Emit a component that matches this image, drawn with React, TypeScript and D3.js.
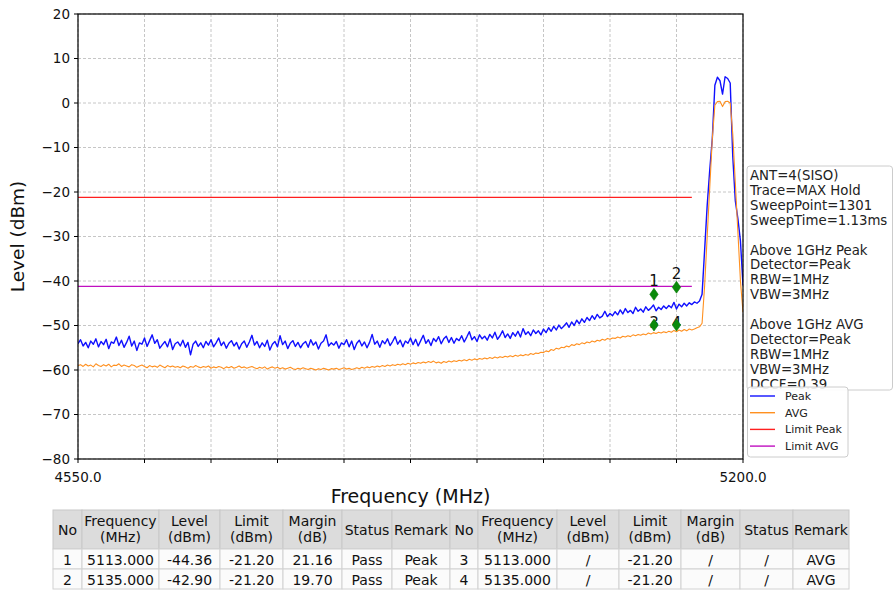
import React from "react";
import * as d3 from "d3";

// ---------- data ----------
const FREQ_START = 4550;
const FREQ_STEP = 2.5;

const PEAK_LEVELS = [
  -54.1, -53.2, -54.6, -53.8, -55.0, -53.5, -54.2, -53.0, -54.8, -53.6,
  -54.3, -53.1, -55.2, -53.7, -54.0, -52.6, -54.5, -53.3, -54.9, -53.8,
  -52.4, -54.6, -53.5, -55.6, -53.9, -54.2, -52.8, -54.7, -53.4, -52.1,
  -54.0, -53.2, -55.1, -54.3, -53.6, -54.8, -53.0, -55.4, -54.1, -53.7,
  -54.6, -53.3, -54.9, -53.8, -56.6, -54.2, -53.5, -54.7, -53.9, -55.0,
  -53.6, -54.4, -53.2, -54.8, -53.9, -52.8, -54.5, -53.7, -55.1, -54.0,
  -53.4, -54.6, -53.8, -55.3, -54.1, -53.5, -54.9, -53.7, -52.2, -54.4,
  -53.6, -55.0, -53.9, -54.7, -53.3, -55.5, -54.2, -53.6, -54.8, -52.3,
  -54.3, -53.5, -55.2, -54.0, -53.4, -54.7, -53.8, -55.0, -54.1, -53.6,
  -54.9, -53.2, -54.4, -53.7, -55.3, -54.0, -53.5, -52.1, -54.6, -53.9,
  -54.4, -53.6, -55.1, -53.9, -54.3, -53.2, -54.8, -53.5, -55.4, -54.0,
  -53.3, -54.6, -53.7, -55.0, -53.8, -52.0, -54.2, -53.5, -54.9, -53.4,
  -54.1, -53.0, -54.5, -53.6, -52.5, -54.2, -53.3, -54.8, -53.5, -54.0,
  -52.8, -54.3, -53.1, -54.6, -53.4, -52.2, -54.0, -53.2, -54.5, -52.9,
  -53.6, -52.5, -54.1, -53.0, -52.4, -53.8, -52.7, -54.0, -52.9, -53.4,
  -52.3, -53.7, -52.6, -51.4, -53.2, -52.5, -53.6, -52.1, -53.0, -52.4,
  -53.3, -52.0, -52.8, -51.5, -53.1, -52.3, -51.2, -52.7, -51.9, -52.9,
  -51.6, -52.4, -51.3, -52.6, -50.7, -52.0, -51.4, -52.3, -51.0, -51.8,
  -51.2, -52.1, -50.8, -51.6, -50.5, -51.3, -50.2, -51.0, -49.9, -50.7,
  -50.1, -49.4, -50.4, -49.2, -50.0, -48.8, -49.6, -48.5, -49.3, -48.2,
  -48.9, -47.8, -48.6, -47.5, -48.3, -47.9, -46.8, -48.0, -47.3, -47.8,
  -46.9, -47.6, -46.5, -47.4, -46.2, -47.1, -46.6, -47.3, -45.9, -46.8,
  -46.3, -47.0, -45.8, -46.6, -46.1, -45.4, -46.7, -45.9, -46.4, -45.6,
  -46.2, -45.5, -46.0, -44.8, -46.3, -45.2, -45.8, -45.0, -45.6, -44.9,
  -45.3, -44.7, -45.0, -44.5, -43.0, -33.0, -23.0, -15.0, -8.0, 4.0,
  5.8, 5.0, 2.0, 5.9, 5.5, 4.5, -12.0, -22.0, -26.0, -31.0,
  -41.0,
];

const AVG_LEVELS = [
  -59.0, -58.8, -59.2, -58.7, -59.1, -58.9, -59.3, -58.6, -59.0, -59.2,
  -58.8, -59.1, -58.7, -59.3, -58.9, -59.0, -58.6, -59.2, -58.9, -59.1,
  -59.3, -58.8, -59.0, -59.4, -59.1, -58.9, -59.2, -59.5, -59.0, -59.3,
  -59.1, -59.4, -58.9, -59.2, -59.5, -59.0, -59.3, -59.1, -59.4, -59.2,
  -59.5, -59.1, -59.3, -59.6, -59.2, -59.4, -59.0, -59.3, -59.5, -59.2,
  -59.4, -59.1, -59.6, -59.3, -59.5, -59.2, -59.4, -59.7, -59.3, -59.5,
  -59.2, -59.6, -59.4, -59.1, -59.5, -59.3, -59.6, -59.4, -59.2, -59.5,
  -59.7, -59.4, -59.6, -59.3, -59.8, -59.5, -59.3, -59.6, -59.4, -59.7,
  -59.5, -59.8, -59.6, -59.4, -59.7, -59.9, -59.6, -59.8, -59.5, -59.7,
  -59.9, -59.6, -59.8, -60.0, -59.7, -59.9, -59.6, -59.8, -60.0, -59.7,
  -59.8, -59.6, -59.9, -59.7, -59.5, -59.8, -59.6, -59.9, -59.7, -59.5,
  -59.7, -59.4, -59.6, -59.3, -59.5, -59.2, -59.4, -59.1, -59.3, -59.0,
  -59.2, -58.9, -59.1, -58.8, -59.0, -58.7, -58.9, -58.6, -58.8, -58.5,
  -58.7, -58.4, -58.6, -58.3, -58.5, -58.2, -58.4, -58.1, -58.3, -58.0,
  -58.4, -58.2, -58.5, -58.1, -58.3, -58.0, -58.2, -57.9, -58.1, -57.8,
  -58.0, -57.7, -57.9, -57.6, -57.8, -57.5, -57.7, -57.4, -57.6, -57.3,
  -57.5, -57.2, -57.4, -57.1, -57.3, -57.0, -57.2, -56.9, -57.1, -56.8,
  -57.0, -56.7, -56.9, -56.6, -56.8, -56.5, -56.7, -56.3, -56.5, -56.2,
  -56.3, -56.0, -56.1, -55.7, -55.9, -55.4, -55.6, -55.1, -55.3, -54.9,
  -55.0, -54.6, -54.8, -54.3, -54.5, -54.1, -54.3, -53.9, -54.1, -53.7,
  -53.9, -53.5, -53.7, -53.3, -53.5, -53.1, -53.3, -52.9, -53.1, -52.8,
  -52.9, -52.6, -52.8, -52.4, -52.6, -52.3, -52.5, -52.1, -52.3, -52.0,
  -52.2, -51.9, -52.1, -51.7, -51.9, -51.6, -51.8, -51.5, -51.7, -51.4,
  -51.6, -51.3, -51.5, -51.1, -51.4, -51.0, -51.3, -50.9, -51.2, -50.8,
  -51.0, -50.8, -50.5, -50.3, -49.5, -41.0, -30.0, -19.0, -8.0, -0.5,
  0.3, 0.4, -0.8, 0.3, 0.4, 0.0, -7.0, -18.0, -29.0, -40.0,
  -47.0,
];

const LIMIT_PEAK = -21.2;
const LIMIT_AVG = -41.2;
const LIMIT_FREQS = [4550, 5150];

const X_DOMAIN = [4550, 5200];
const Y_DOMAIN = [-80, 20];
const X_TICKS = [4550, 4615, 4680, 4745, 4810, 4875, 4940, 5005, 5070, 5135, 5200];
const X_TICK_LABELS = ["4550.0", "", "", "", "", "", "", "", "", "", "5200.0"];
const Y_TICKS = [20, 10, 0, -10, -20, -30, -40, -50, -60, -70, -80];

const MARKER_NO = ["1", "2", "3", "4"];
const MARKER_FREQ = [5113, 5135, 5113, 5135];
const MARKER_LEVEL = [-43.0, -41.4, -49.9, -49.9];
const MARKER_LABEL_LEVEL = [-41.1, -39.6, -50.6, -50.6];

const INFO_LINES = [
  "ANT=4(SISO)",
  "Trace=MAX Hold",
  "SweepPoint=1301",
  "SweepTime=1.13ms",
  "",
  "Above 1GHz Peak",
  "Detector=Peak",
  "RBW=1MHz",
  "VBW=3MHz",
  "",
  "Above 1GHz AVG",
  "Detector=Peak",
  "RBW=1MHz",
  "VBW=3MHz",
  "DCCF=0.39",
];

const LEGEND_LABELS = ["Peak", "AVG", "Limit Peak", "Limit AVG"];
const LEGEND_COLORS = ["#1010ff", "#ff9020", "#ff2020", "#c010c0"];

const TABLE_HEADER = [
  "No", "Frequency\n(MHz)", "Level\n(dBm)", "Limit\n(dBm)", "Margin\n(dB)", "Status", "Remark",
  "No", "Frequency\n(MHz)", "Level\n(dBm)", "Limit\n(dBm)", "Margin\n(dB)", "Status", "Remark",
];
const TABLE_ROW_1 = ["1", "5113.000", "-44.36", "-21.20", "21.16", "Pass", "Peak", "3", "5113.000", "/", "-21.20", "/", "/", "AVG"];
const TABLE_ROW_2 = ["2", "5135.000", "-42.90", "-21.20", "19.70", "Pass", "Peak", "4", "5135.000", "/", "-21.20", "/", "/", "AVG"];

// ---------- layout ----------
const W = 893;
const H = 590;
const PL = 78, PR = 743, PT = 14, PB = 459;
const COL_WIDTHS = [29, 77, 61, 63, 59, 50, 58, 28, 79, 62, 62, 59, 53, 56];
const TABLE_X = 53;
const HEADER_TOP = 510, HEADER_H = 39, ROW_H = 20;
const FONT = "DejaVu Sans";

const fmt = (v: number) => (v < 0 ? "\u2212" : "") + Math.abs(v);

export default function App() {
  const x = d3.scaleLinear().domain(X_DOMAIN).range([PL, PR]);
  const y = d3.scaleLinear().domain(Y_DOMAIN).range([PB, PT]);
  const line = d3
    .line<number>()
    .x((_, i) => x(FREQ_START + i * FREQ_STEP))
    .y((d) => y(d));
  const peakPath = line(PEAK_LEVELS) || "";
  const avgPath = line(AVG_LEVELS) || "";

  const colX: number[] = [];
  let acc = TABLE_X;
  COL_WIDTHS.forEach((w) => {
    colX.push(acc);
    acc += w;
  });
  const rows = [TABLE_ROW_1, TABLE_ROW_2];

  const diamond = (cx: number, cy: number) =>
    `M${cx},${cy - 6} L${cx + 4.2},${cy} L${cx},${cy + 6} L${cx - 4.2},${cy} Z`;

  return (
    <svg
      width={W}
      height={H}
      style={{ position: "absolute", left: 0, top: 0, background: "#fff" }}
      fontFamily={FONT}
    >
      <rect x={0} y={0} width={W} height={H} fill="#fff" />
      <defs>
        <clipPath id="plotclip">
          <rect x={PL} y={PT} width={PR - PL} height={PB - PT} />
        </clipPath>
      </defs>

      {/* grid */}
      {Y_TICKS.map((t) => (
        <line key={"gy" + t} x1={PL} x2={PR} y1={y(t)} y2={y(t)} stroke="#b8b8b8" strokeWidth={0.8} strokeDasharray="3,2" />
      ))}
      {X_TICKS.map((t) => (
        <line key={"gx" + t} x1={x(t)} x2={x(t)} y1={PT} y2={PB} stroke="#b8b8b8" strokeWidth={0.8} strokeDasharray="3,2" />
      ))}

      {/* traces */}
      <g clipPath="url(#plotclip)">
        <path d={peakPath} fill="none" stroke={LEGEND_COLORS[0]} strokeWidth={1.4} strokeLinejoin="round" />
        <path d={avgPath} fill="none" stroke={LEGEND_COLORS[1]} strokeWidth={1.1} strokeLinejoin="round" />
        <line x1={x(LIMIT_FREQS[0])} x2={x(LIMIT_FREQS[1])} y1={y(LIMIT_PEAK)} y2={y(LIMIT_PEAK)} stroke={LEGEND_COLORS[2]} strokeWidth={1.4} />
        <line x1={x(LIMIT_FREQS[0])} x2={x(LIMIT_FREQS[1])} y1={y(LIMIT_AVG)} y2={y(LIMIT_AVG)} stroke={LEGEND_COLORS[3]} strokeWidth={1.4} />
      </g>

      {/* markers */}
      {MARKER_NO.map((n, i) => (
        <text key={"ml" + n} x={x(MARKER_FREQ[i])} y={y(MARKER_LABEL_LEVEL[i])} fontSize={15} textAnchor="middle" fill="#111">
          {n}
        </text>
      ))}
      {MARKER_NO.map((n, i) => (
        <path key={"m" + n} d={diamond(x(MARKER_FREQ[i]), y(MARKER_LEVEL[i]))} fill="#0a8a0a" stroke="#0a7a0a" strokeWidth={0.6} />
      ))}

      {/* spines */}
      <rect x={PL} y={PT} width={PR - PL} height={PB - PT} fill="none" stroke="#000" strokeWidth={1.2} />

      {/* ticks */}
      {Y_TICKS.map((t) => (
        <g key={"ty" + t}>
          <line x1={PL - 4} x2={PL} y1={y(t)} y2={y(t)} stroke="#000" strokeWidth={1} />
          <text x={PL - 8} y={y(t)} dy="0.36em" fontSize={13.5} textAnchor="end" fill="#111">
            {fmt(t)}
          </text>
        </g>
      ))}
      {X_TICKS.map((t, i) => (
        <g key={"tx" + t}>
          <line x1={x(t)} x2={x(t)} y1={PB} y2={PB + 4} stroke="#000" strokeWidth={1} />
          {X_TICK_LABELS[i] && (
            <text x={x(t)} y={PB + 23} fontSize={13.5} textAnchor="middle" fill="#111">
              {X_TICK_LABELS[i]}
            </text>
          )}
        </g>
      ))}

      {/* axis labels */}
      <text x={(PL + PR) / 2} y={503} fontSize={19} textAnchor="middle" fill="#111">
        Frequency (MHz)
      </text>
      <text
        transform={`translate(24,${(PT + PB) / 2}) rotate(-90)`}
        fontSize={18.5}
        textAnchor="middle"
        fill="#111"
      >
        Level (dBm)
      </text>

      {/* info box */}
      <rect x={747} y={166} width={145.5} height={224} rx={3} fill="#fff" fillOpacity={0.85} stroke="#cccccc" strokeWidth={1} />
      {INFO_LINES.map((s, i) => (
        <text key={"info" + i} x={750} y={180 + i * 14.9} fontSize={13.3} fill="#222">
          {s}
        </text>
      ))}

      {/* legend */}
      <rect x={747.5} y={387} width={100.5} height={70} rx={3} fill="#fff" fillOpacity={0.9} stroke="#cccccc" strokeWidth={1} />
      {LEGEND_LABELS.map((s, i) => (
        <g key={"lg" + s}>
          <line x1={750} x2={775} y1={396 + i * 16.7} y2={396 + i * 16.7} stroke={LEGEND_COLORS[i]} strokeWidth={1.4} />
          <text x={785} y={396 + i * 16.7} dy="0.36em" fontSize={11} fill="#222">
            {s}
          </text>
        </g>
      ))}

      {/* table */}
      {TABLE_HEADER.map((h, c) => {
        const parts = h.split("\n");
        const cx = colX[c] + COL_WIDTHS[c] / 2;
        return (
          <g key={"th" + c}>
            <rect x={colX[c]} y={HEADER_TOP} width={COL_WIDTHS[c]} height={HEADER_H} fill="#dcdcdc" stroke="#c8c8c8" strokeWidth={1} />
            {parts.length === 1 ? (
              <text x={cx} y={HEADER_TOP + 25} fontSize={14} textAnchor="middle" fill="#111">
                {parts[0]}
              </text>
            ) : (
              parts.map((p, k) => (
                <text key={k} x={cx} y={HEADER_TOP + 16 + k * 15.5} fontSize={14} textAnchor="middle" fill="#111">
                  {p}
                </text>
              ))
            )}
          </g>
        );
      })}
      {rows.map((r, ri) =>
        r.map((v, c) => (
          <g key={"td" + ri + "-" + c}>
            <rect x={colX[c]} y={HEADER_TOP + HEADER_H + ri * ROW_H} width={COL_WIDTHS[c]} height={ROW_H} fill="#fbfbfb" stroke="#d2d2d2" strokeWidth={1} />
            <text x={colX[c] + COL_WIDTHS[c] / 2} y={HEADER_TOP + HEADER_H + ri * ROW_H + 15.5} fontSize={14} textAnchor="middle" fill="#111">
              {v}
            </text>
          </g>
        ))
      )}
    </svg>
  );
}
